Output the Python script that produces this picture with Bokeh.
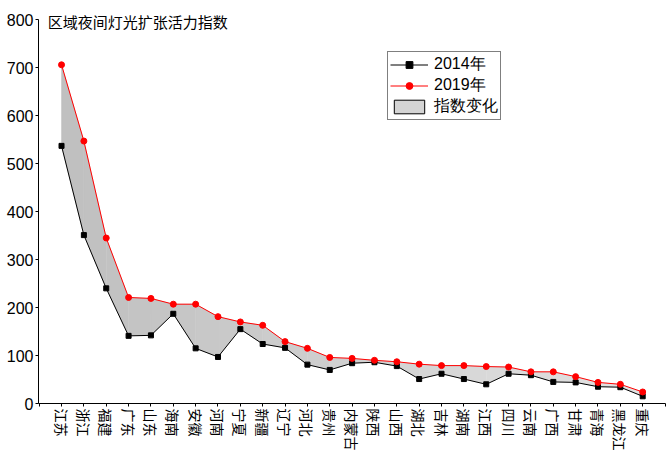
from bokeh.plotting import figure
from bokeh.models import Range1d, Legend, LegendItem, Label, ColumnDataSource, FixedTicker
from bokeh.embed import file_html
from bokeh.resources import INLINE

regions = ["江苏", "浙江", "福建", "广东", "山东", "海南", "安徽", "河南", "宁夏", "新疆",
           "辽宁", "河北", "贵州", "内蒙古", "陕西", "山西", "湖北", "吉林", "湖南", "江西",
           "四川", "云南", "广西", "甘肃", "青海", "黑龙江", "重庆"]
idx_2014 = [537, 351, 240, 141, 142, 187, 115, 97, 155, 124, 116, 81, 70, 84, 86, 78,
            51, 62, 51, 40, 62, 59, 45, 44, 35, 34, 15]
idx_2019 = [706, 547, 345, 221, 219, 207, 207, 181, 170, 163, 129, 115, 96, 94, 90, 87,
            82, 79, 79, 77, 76, 66, 66, 56, 44, 40, 24]
y_ticks = [0, 100, 200, 300, 400, 500, 600, 700, 800]
title_text = "区域夜间灯光扩张活力指数"
series_names = ["2014年", "2019年", "指数变化"]

LATIN = "'Liberation Sans', 'Noto Sans CJK SC'"
CJK = "'Noto Sans CJK SC'"

n = len(regions)
xs = list(range(n))

p = figure(width=669, height=460, output_backend="svg", toolbar_location=None,
           x_range=Range1d(-1.03, n + 0.02), y_range=Range1d(0, 815),
           min_border_left=38, min_border_right=4, min_border_top=12, min_border_bottom=57)
p.outline_line_color = None
p.xgrid.visible = False
p.ygrid.visible = False
p.background_fill_color = "white"
p.border_fill_color = "white"

src = ColumnDataSource(dict(x=xs, a=idx_2014, b=idx_2019))

# legend swatch for the band: zero-size rects hidden beneath the 2014 markers
swatch = p.rect("x", "a", width=0, height=0, width_units="screen", height_units="screen",
                source=src, fill_color="#d4d4d4", line_color="black", line_width=1,
                level="underlay")

# shaded band between series, gradient-like grey from left to right
seg_xs, seg_ys, seg_col = [], [], []
for i in range(n - 1):
    seg_xs.append([xs[i], xs[i + 1], xs[i + 1], xs[i]])
    seg_ys.append([idx_2014[i], idx_2014[i + 1], idx_2019[i + 1], idx_2019[i]])
    g = int(192 + (226 - 192) * i / (n - 2))
    seg_col.append("#%02x%02x%02x" % (g, g, g))
band = p.patches(xs="xs", ys="ys", fill_color="col", line_color="col", line_width=0.5,
                 source=ColumnDataSource(dict(xs=seg_xs, ys=seg_ys, col=seg_col)))

l14 = p.line("x", "a", source=src, line_color="black", line_width=1)
m14 = p.scatter("x", "a", source=src, marker="square", size=5, fill_color="black",
                line_color="black")
l19 = p.line("x", "b", source=src, line_color="#ff0000", line_width=1)
m19 = p.scatter("x", "b", source=src, marker="circle", size=6, fill_color="#ff0000",
                line_color="#ff0000")

legend = Legend(items=[LegendItem(label=series_names[0], renderers=[l14, m14]),
                       LegendItem(label=series_names[1], renderers=[l19, m19]),
                       LegendItem(label=series_names[2], renderers=[swatch])],
                location=(349, 283), orientation="vertical",
                border_line_color="black", border_line_width=1,
                background_fill_color="white", background_fill_alpha=1,
                padding=2, spacing=0, margin=0, label_standoff=6,
                glyph_width=38, glyph_height=17, label_height=17,
                label_text_font="Liberation Sans", label_text_font_size="16px",
                label_text_color="black")
p.add_layout(legend, "center")

p.add_layout(Label(x=-0.62, y=796, text=title_text, text_font=CJK,
                   text_font_size="15px", text_color="black",
                   text_baseline="middle", text_align="left"))

# axes
p.yaxis.bounds = (0, 800)
p.yaxis.ticker = FixedTicker(ticks=y_ticks)
p.yaxis.major_label_text_font = LATIN
p.yaxis.major_label_text_font_size = "16px"
p.yaxis.major_label_text_color = "black"
p.yaxis.major_tick_out = 3
p.yaxis.major_tick_in = 0
p.yaxis.minor_tick_line_color = None
p.yaxis.major_label_standoff = 2
p.yaxis.axis_line_color = "black"

p.xaxis.ticker = FixedTicker(ticks=list(range(-1, n + 1)))
overrides = {i: regions[i] for i in range(n)}
overrides[-1] = ""
overrides[n] = ""
p.xaxis.major_label_overrides = overrides
p.xaxis.major_label_orientation = "vertical"
p.xaxis.major_label_text_font = CJK
p.xaxis.major_label_text_font_size = "14px"
p.xaxis.major_label_text_color = "black"
p.xaxis.major_tick_out = 3
p.xaxis.major_tick_in = 0
p.xaxis.minor_tick_line_color = None
p.xaxis.major_label_standoff = 2
p.xaxis.axis_line_color = "black"

open("out.html", "w").write(file_html(p, INLINE))
